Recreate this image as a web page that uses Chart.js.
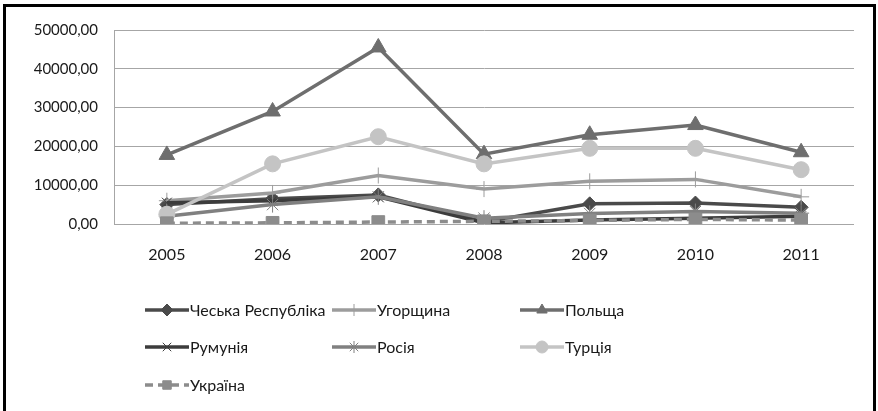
<!DOCTYPE html>
<html>
<head>
<meta charset="utf-8">
<script src="https://cdn.jsdelivr.net/npm/chart.js@4/dist/chart.umd.min.js"></script>
<style>
    body { margin: 0; background: #fff; }
    #wrap { position: relative; width: 878px; height: 411px; overflow: hidden; }
    #frame {
        position: absolute; left: 3px; top: 4px; width: 873px; height: 420px;
        border: 3px solid #000; box-sizing: border-box;
    }
    canvas { position: absolute; left: 0; top: 0; }
</style>
</head>
<body>
<div id="wrap">
    <div id="frame"></div>
    <canvas id="chart" width="878" height="411"></canvas>
</div>
<script>
// years on the category axis
const years = ['2005', '2006', '2007', '2008', '2009', '2010', '2011'];

const czech   = [5000, 6500, 7500, 500, 5200, 5400, 4300];
const hungary = [6000, 8000, 12500, 9000, 11000, 11500, 7000];
const poland  = [17800, 29000, 45500, 18000, 23000, 25500, 18500];
const romania = [5500, 6000, 7000, 300, 1000, 1500, 2000];
const russia  = [2000, 5000, 7000, 1500, 2700, 3200, 2800];
const turkey  = [2500, 15500, 22500, 15500, 19500, 19500, 14000];
const ukraine = [200, 300, 500, 700, 900, 1200, 1000];

const yTicks = [0, 10000, 20000, 30000, 40000, 50000];

const FONT = 'Lato, "Open Sans", sans-serif';

function makeSet(label, data, color, style, radius, extra) {
    return Object.assign({
        label: label,
        data: data,
        borderColor: color,
        backgroundColor: color,
        pointBackgroundColor: color,
        pointBorderColor: color,
        borderWidth: 3.5,
        pointStyle: style,
        pointRadius: radius,
        pointBorderWidth: 1,
        tension: 0
    }, extra || {});
}

const datasets = [
    makeSet('Чеська Республіка', czech, '#4a4a4a', 'rectRot', 7),
    makeSet('Угорщина', hungary, '#9c9c9c', 'cross', 8),
    makeSet('Польща', poland, '#6e6e6e', 'triangle', 9),
    makeSet('Румунія', romania, '#3c3c3c', 'crossRot', 7),
    makeSet('Росія', russia, '#808080', 'star', 8),
    makeSet('Турція', turkey, '#c4c4c4', 'circle', 8),
    makeSet('Україна', ukraine, '#8c8c8c', 'rect', 9, { borderDash: [8, 5] })
];
// Excel draws later series on top
datasets.forEach((d, i) => { d.order = datasets.length - i; });

// legend laid out in three columns, drawn onto the canvas
const legendCols = [145, 332, 520];
const legendRows = [310, 347, 385];

const gridLegend = {
    id: 'gridLegend',
    afterDraw(chart) {
        const ctx = chart.ctx;
        chart.data.datasets.forEach((ds, i) => {
            const x = legendCols[i % 3];
            const y = legendRows[Math.floor(i / 3)];
            ctx.save();
            ctx.strokeStyle = ds.borderColor;
            ctx.fillStyle = ds.borderColor;
            ctx.lineWidth = 3.5;
            ctx.setLineDash(ds.borderDash || []);
            ctx.beginPath();
            ctx.moveTo(x, y);
            ctx.lineTo(x + 44, y);
            ctx.stroke();
            ctx.setLineDash([]);
            ctx.lineWidth = 1;
            Chart.helpers.drawPoint(ctx, {
                pointStyle: ds.pointStyle,
                radius: Math.min(ds.pointRadius, 6),
                rotation: 0,
                borderWidth: 1
            }, x + 22, y);
            ctx.fillStyle = '#1a1a1a';
            ctx.font = '16px ' + FONT;
            ctx.textBaseline = 'middle';
            ctx.fillText(ds.label, x + 45, y + 1);
            ctx.restore();
        });
    }
};

new Chart(document.getElementById('chart'), {
    type: 'line',
    data: { labels: years, datasets: datasets },
    options: {
        responsive: false,
        animation: false,
        layout: { padding: { left: 8, top: 30, right: 24, bottom: 142 } },
        plugins: {
            legend: { display: false },
            tooltip: { enabled: false }
        },
        scales: {
            x: {
                offset: true,
                grid: { display: false, drawTicks: false },
                border: { display: false },
                ticks: { color: '#1a1a1a', font: { family: FONT, size: 16 }, padding: 21, maxRotation: 0 },
                afterFit: (s) => { s.height = 45; }
            },
            y: {
                min: 0,
                max: 50000,
                afterBuildTicks: (s) => { s.ticks = yTicks.map(v => ({ value: v })); },
                grid: { color: '#a6a6a6', lineWidth: 1, drawTicks: false },
                border: { display: true, color: '#a6a6a6' },
                ticks: {
                    color: '#1a1a1a',
                    font: { family: FONT, size: 15 },
                    padding: 16,
                    callback: (v) => v.toFixed(2).replace('.', ',')
                },
                afterFit: (s) => { s.width = 106; }
            }
        }
    },
    plugins: [gridLegend]
});
</script>
</body>
</html>
